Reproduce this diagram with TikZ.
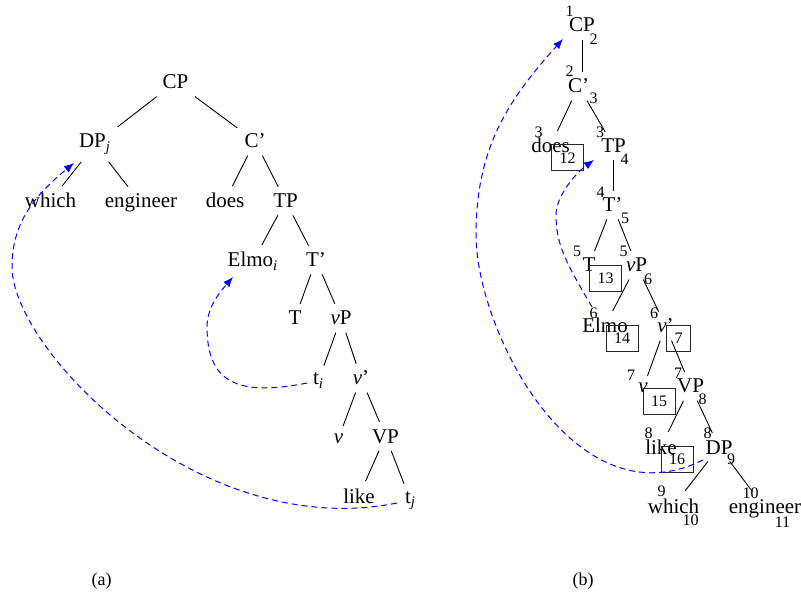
\documentclass[tikz,border=0pt]{standalone}
\usepackage{fontspec}
\setmainfont{Liberation Serif}
\usetikzlibrary{arrows.meta}
\begin{document}
\begin{tikzpicture}[x=0.5pt,y=-0.5pt,
  w/.style={font=\fontsize{10.5}{12}\selectfont, anchor=base, inner sep=3.5pt},
  num/.style={font=\fontsize{8}{9}\selectfont, inner sep=0pt},
  idx/.style={draw=black!85, line width=0.5pt, font=\fontsize{8}{9}\selectfont, minimum height=13pt, inner xsep=4pt, inner ysep=0pt},
  edge/.style={line width=0.45pt},
  mv/.style={blue, dash pattern=on 3pt off 2pt, line width=0.5pt, -{Latex[length=5pt,width=4pt]}},
  captext/.style={font=\fontsize{9}{10}\selectfont, inner sep=0pt}
]
\useasboundingbox (0,0) rectangle (801,592);

% ---------- tree (a) ----------
\node[w] (aCP) at (175.5,89) {CP};
\node[w] (aDP) at (95,148) {DP\textsubscript{\textit{j}}};
\node[w] (aC) at (255,148) {C'};
\node[w] (awhich) at (50.5,208) {which};
\node[w] (aeng) at (141,208) {engineer};
\node[w] (adoes) at (225,208) {does};
\node[w] (aTP) at (285.5,208) {TP};
\node[w] (aElmo) at (253,267) {Elmo\textsubscript{\textit{i}}};
\node[w] (aTb) at (316,267) {T'};
\node[w] (aT) at (295,325) {T};
\node[w] (avP) at (341,325) {\textit{v}P};
\node[w] (ati) at (318.5,385) {t\textsubscript{\textit{i}}};
\node[w] (avb) at (361,385) {\textit{v}'};
\node[w] (av) at (338.5,443) {\textit{v}};
\node[w] (aVP) at (385.5,443) {VP};
\node[w] (alike) at (359,503) {like};
\node[w] (atj) at (410.5,503) {t\textsubscript{\textit{j}}};

\draw[edge] (aCP) -- (aDP);
\draw[edge] (aCP) -- (aC);
\draw[edge] (aDP) -- (awhich);
\draw[edge] (aDP) -- (aeng);
\draw[edge] (aC) -- (adoes);
\draw[edge] (aC) -- (aTP);
\draw[edge] (aTP) -- (aElmo);
\draw[edge] (aTP) -- (aTb);
\draw[edge] (aTb) -- (aT);
\draw[edge] (aTb) -- (avP);
\draw[edge] (avP) -- (ati);
\draw[edge] (avP) -- (avb);
\draw[edge] (avb) -- (av);
\draw[edge] (avb) -- (aVP);
\draw[edge] (aVP) -- (alike);
\draw[edge] (aVP) -- (atj);

\coordinate (aS1) at (397,503);
\coordinate (aE1) at (74,163);
\coordinate (aS2) at (307,383);
\coordinate (aE2) at (233,277);
\draw[mv] (aS1) .. controls (198,543) and (12,349) .. (12,267) .. controls (12,223) and (34,196) .. (aE1);
\draw[mv] (aS2) .. controls (237,397) and (207,382) .. (207,327) .. controls (207,307) and (220,292) .. (aE2);

\node[captext] (capa) at (101.7,581) {(a)};

% ---------- tree (b) ----------
\node[w] (bCP) at (582,32) {CP};
\node[w] (bC) at (578.5,93) {C'};
\node[w] (bdoes) at (550.5,153) {does};
\node[w] (bTP) at (613.5,153) {TP};
\node[w] (bTb) at (612.5,212) {T'};
\node[w] (bT) at (589,272) {T};
\node[w] (bvP) at (636.5,272) {\textit{v}P};
\node[w] (bElmo) at (605,333) {Elmo};
\node[w] (bvb) at (665.5,333) {\textit{v}'};
\node[w] (bv) at (643,393) {\textit{v}};
\node[w] (bVP) at (690.5,393) {VP};
\node[w] (blike) at (661,454) {like};
\node[w] (bDP) at (719,454) {DP};
\node[w] (bwhich) at (673.5,513) {which};
\node[w] (beng) at (765,513) {engineer};

\draw[edge] (bCP.south) -- (bCP.south |- bC.north);
\draw[edge] (bC) -- (bdoes);
\draw[edge] (bC) -- (bTP);
\draw[edge] (bTP.south) -- (bTP.south |- bTb.north);
\draw[edge] (bTb) -- (bT);
\draw[edge] (bTb) -- (bvP);
\draw[edge] (bvP) -- (bElmo);
\draw[edge] (bvP) -- (bvb);
\draw[edge] (bvb) -- (bv);
\draw[edge] (bvb) -- (bVP);
\draw[edge] (bVP) -- (blike);
\draw[edge] (bVP) -- (bDP);
\draw[edge] (bDP) -- (bwhich);
\draw[edge] (bDP) -- (beng);

% span numbers
\node[num] (n1) at (569.5,11) {1};
\node[num] (n2) at (593.5,39) {2};
\node[num] (n3) at (569.5,71.5) {2};
\node[num] (n4) at (593.5,98.5) {3};
\node[num] (n5) at (538.5,132) {3};
\node[num] (n6) at (600,132) {3};
\node[num] (n7) at (624.5,159.5) {4};
\node[num] (n8) at (600.5,192) {4};
\node[num] (n9) at (625,218) {5};
\node[num] (n10) at (577,251) {5};
\node[num] (n11) at (623.5,251) {5};
\node[num] (n12) at (648,279) {6};
\node[num] (n13) at (593.5,313) {6};
\node[num] (n14) at (654,313) {6};
\node[num] (n15) at (631,375) {7};
\node[num] (n16) at (678,373) {7};
\node[num] (n17) at (702.5,399.5) {8};
\node[num] (n18) at (648.5,433) {8};
\node[num] (n19) at (707.5,433) {8};
\node[num] (n20) at (731,459) {9};
\node[num] (n21) at (661.5,491) {9};
\node[num] (n22) at (690.5,520) {10};
\node[num] (n23) at (750.5,493) {10};
\node[num] (n24) at (782.5,522) {11};

% boxed indices
\node[idx] (x12) at (567.5,158) {12};
\node[idx] (x13) at (605.5,278.5) {13};
\node[idx] (x14) at (622,338.5) {14};
\node[idx] (x7) at (678.5,338.5) {7};
\node[idx] (x15) at (659,401.5) {15};
\node[idx] (x16) at (677,459) {16};

\coordinate (bS1) at (703,460);
\coordinate (bE1) at (563,39);
\coordinate (bS2) at (592,307);
\coordinate (bE2) at (594,160);
\draw[mv] (bS1) .. controls (574,524.5) and (476,329) .. (476,235) .. controls (476,148) and (508,100) .. (bE1);
\draw[mv] (bS2) .. controls (565.5,262) and (556,244) .. (556,215) .. controls (556,195) and (577.6,171.6) .. (bE2);

\node[captext] (capb) at (583,581) {(b)};
\end{tikzpicture}
\end{document}
